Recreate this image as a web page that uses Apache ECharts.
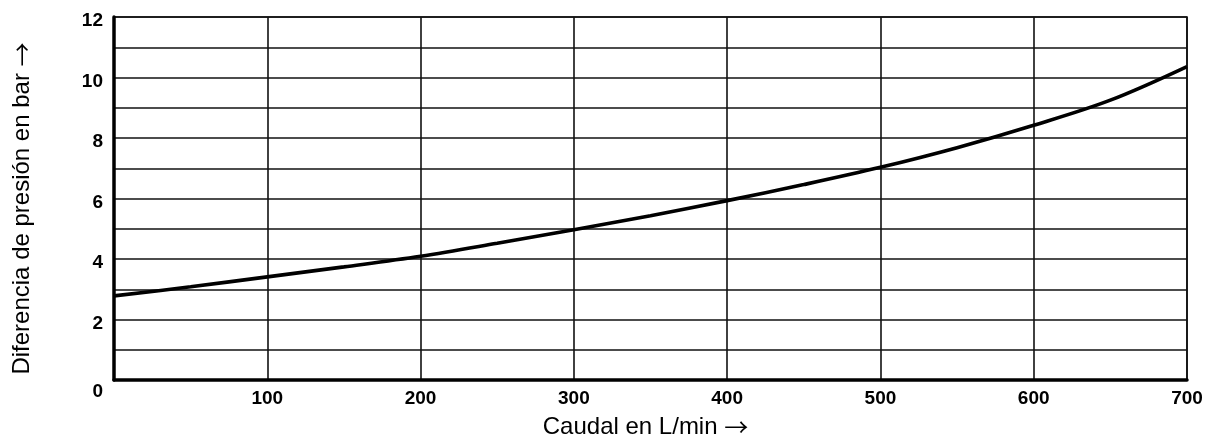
<!DOCTYPE html>
<html>
<head>
<meta charset="utf-8">
<script src="https://cdn.jsdelivr.net/npm/echarts@6/dist/echarts.min.js"></script>
<style>
html,body{margin:0;padding:0;background:#fff;}
#c{width:1207px;height:437px;}
</style>
</head>
<body>
<div id="c"></div>
<script>
const flowLmin = [0, 50, 100, 150, 200, 250, 300, 350, 400, 450, 500, 550, 600, 650, 700];
const pressureBar = [2.78, 3.08, 3.41, 3.74, 4.09, 4.52, 4.97, 5.43, 5.93, 6.46, 7.03, 7.68, 8.42, 9.25, 10.36];
const xTicks = [100, 200, 300, 400, 500, 600, 700];
const yTicks = [0, 2, 4, 6, 8, 10, 12];
const xNameText = 'Caudal en L/min';
const yNameText = 'Diferencia de presi\u00f3n en bar';
const arrow = '\u2192';

const chart = echarts.init(document.getElementById('c'), null, {renderer: 'canvas'});
const font = '"Liberation Sans", Arial, Helvetica, sans-serif';
const arrowFont = '"Noto Sans CJK JP", "DejaVu Sans", sans-serif';
const gridColor = '#111';
const nameRich = {a: {fontFamily: arrowFont, fontSize: 24, color: '#000'}};
chart.setOption({
  animation: false,
  backgroundColor: '#fff',
  grid: {left: 114, right: 20, top: 17, bottom: 57, show: true, borderColor: gridColor, borderWidth: 1.6, outerBoundsMode: 'none', containLabel: false},
  xAxis: {
    type: 'value', min: 0, max: 700, interval: 100,
    name: xNameText + ' {a|' + arrow + '}', nameLocation: 'middle', nameGap: 35,
    nameTextStyle: {fontFamily: font, fontSize: 24, color: '#000', rich: nameRich, padding: [0, 10, 0, 0]},
    axisLine: {show: true, onZero: false, lineStyle: {color: '#000', width: 3.5}},
    axisTick: {show: false},
    axisLabel: {
      margin: 9.5, fontFamily: font, fontSize: 19, fontWeight: 'bold', color: '#000',
      formatter: v => xTicks.includes(v) ? String(v) : ''
    },
    splitLine: {show: true, lineStyle: {color: gridColor, width: 1.6}}
  },
  yAxis: {
    type: 'value', min: 0, max: 12, interval: 1,
    name: yNameText + ' {a|' + arrow + '}', nameLocation: 'middle', nameGap: 80, nameRotate: 90,
    nameTextStyle: {fontFamily: font, fontSize: 24, color: '#000', rich: nameRich, padding: [0, 20, 0, 0]},
    axisLine: {show: true, onZero: false, lineStyle: {color: '#000', width: 3.5}},
    axisTick: {show: false},
    axisLabel: {
      margin: 11, fontFamily: font, fontSize: 19, fontWeight: 'bold', color: '#000',
      formatter: v => v === 0 ? '{z|0}' : (yTicks.includes(v) ? '{n|' + v + '}' : ''),
      rich: {
        n: {fontFamily: font, fontSize: 19, fontWeight: 'bold', color: '#000', padding: [8, 0, 0, 0]},
        z: {fontFamily: font, fontSize: 19, fontWeight: 'bold', color: '#000', padding: [24, 0, 0, 0]}
      }
    },
    splitLine: {show: true, lineStyle: {color: gridColor, width: 1.6}}
  },
  series: [{
    type: 'line',
    data: flowLmin.map((x, i) => [x, pressureBar[i]]),
    smooth: 0.35,
    symbol: 'none',
    lineStyle: {color: '#000', width: 3.6},
    z: 5
  }]
});
</script>
</body>
</html>
